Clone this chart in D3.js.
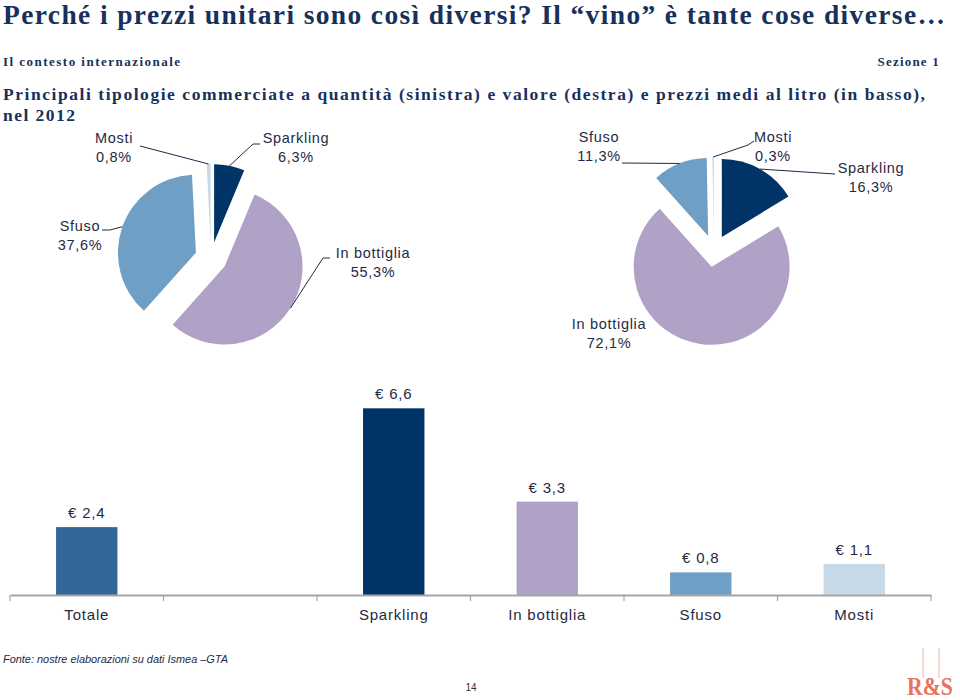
<!DOCTYPE html>
<html><head><meta charset="utf-8">
<script src="https://cdn.jsdelivr.net/npm/d3@7"></script>
<style>
html,body{margin:0;padding:0;background:#fff;}
svg{display:block;}
</style></head>
<body>
<svg id="chart" width="960" height="700"></svg>
<script>
// ---------- DATA ----------
const sliceLabels = ["Sparkling", "In bottiglia", "Sfuso", "Mosti"];
const quantityShares = [6.3, 55.3, 37.6, 0.8];   // left pie (quantità)
const valueShares    = [16.3, 72.1, 11.3, 0.3];  // right pie (valore)
const barCategories  = ["Totale", "", "Sparkling", "In bottiglia", "Sfuso", "Mosti"];
const barPrices      = [2.4, null, 6.6, 3.3, 0.8, 1.1]; // € al litro

// ---------- STYLE ----------
const colorOf = {
  "Totale": "#336699",
  "Sparkling": "#003366",
  "In bottiglia": "#b0a1c7",
  "Sfuso": "#6f9fc4",
  "Mosti": "#c7d9e7"
};
const navy = "#17315c";
const labelInk = "#1f2a44";
const fmt = v => v.toFixed(1).replace(".", ",");

const svg = d3.select("#chart");

// ---------- HEADER ----------
svg.append("text").attr("x", 3).attr("y", 24)
  .attr("textLength", 942).attr("lengthAdjust", "spacing")
  .style("font-family", "'Liberation Serif','DejaVu Serif',serif")
  .style("font-weight", "bold").style("font-size", "27.5px").attr("fill", navy)
  .text("Perché i prezzi unitari sono così diversi? Il “vino” è tante cose diverse…");

svg.append("text").attr("x", 3).attr("y", 66)
  .attr("textLength", 177).attr("lengthAdjust", "spacing")
  .style("font-family", "'Liberation Serif',serif").style("font-weight", "bold")
  .style("font-size", "13px").attr("fill", navy)
  .text("Il contesto internazionale");

svg.append("text").attr("x", 940).attr("y", 66).attr("text-anchor", "end")
  .style("font-family", "'Liberation Serif',serif").style("font-weight", "bold")
  .style("font-size", "13px").style("letter-spacing", "1.2px").attr("fill", navy)
  .text("Sezione 1");

svg.append("text").attr("x", 3).attr("y", 100)
  .attr("textLength", 922).attr("lengthAdjust", "spacing")
  .style("font-family", "'Liberation Serif',serif").style("font-weight", "bold")
  .style("font-size", "17.5px").attr("fill", navy)
  .text("Principali tipologie commerciate a quantità (sinistra) e valore (destra) e prezzi medi al litro (in basso),");
svg.append("text").attr("x", 3).attr("y", 121)
  .attr("textLength", 72).attr("lengthAdjust", "spacing")
  .style("font-family", "'Liberation Serif',serif").style("font-weight", "bold")
  .style("font-size", "17.5px").attr("fill", navy)
  .text("nel 2012");

// ---------- PIES ----------
const R = 78, explode = 16;
const pie = d3.pie().sort(null).value(d => d.v);
const arc = d3.arc().innerRadius(0).outerRadius(R);

function drawPie(values, cx, cy, labelLayout) {
  const data = sliceLabels.map((k, i) => ({k, v: values[i]}));
  const arcs = pie(data);
  const g = svg.append("g").attr("transform", `translate(${cx},${cy})`);
  arcs.forEach(a => {
    const mid = (a.startAngle + a.endAngle) / 2;
    const ox = Math.sin(mid) * explode, oy = -Math.cos(mid) * explode;
    g.append("path").attr("d", arc(a)).attr("fill", colorOf[a.data.k])
      .attr("transform", `translate(${ox},${oy})`);
    const L = labelLayout[a.data.k];
    const t = svg.append("text").attr("text-anchor", "middle")
      .style("font-family", "'Liberation Sans',Arial,sans-serif")
      .style("font-size", "14.5px").style("letter-spacing", "0.7px")
      .attr("fill", labelInk);
    t.append("tspan").attr("x", L.x).attr("y", L.y).text(a.data.k);
    t.append("tspan").attr("x", L.x).attr("y", L.y + 19).text(fmt(a.data.v) + "%");
    if (L.lead) {
      const ex = cx + ox + Math.sin(mid) * R, ey = cy + oy - Math.cos(mid) * R;
      const pts = L.lead.concat([[ex, ey]]);
      svg.append("path").attr("d", d3.line()(pts))
        .attr("fill", "none").attr("stroke", "#1f2a44").attr("stroke-width", 1);
    }
  });
}

drawPie(quantityShares, 211, 258, {
  "Mosti":        {x: 114, y: 143, lead: [[140, 146]]},
  "Sparkling":    {x: 296, y: 143, lead: [[260, 144], [253, 144]]},
  "Sfuso":        {x: 80,  y: 231, lead: [[102, 230], [110, 230]]},
  "In bottiglia": {x: 373, y: 258, lead: [[330, 258], [323, 258]]}
});
drawPie(valueShares, 714, 251, {
  "Sfuso":        {x: 599, y: 142, lead: [[622, 163]]},
  "Mosti":        {x: 773, y: 142, lead: [[754, 141], [748, 145]]},
  "Sparkling":    {x: 871, y: 173, lead: [[835, 174]]},
  "In bottiglia": {x: 609, y: 329, lead: null}
});

// ---------- BARS ----------
const x = d3.scaleBand().domain(barCategories).range([10, 931])
  .paddingInner(0.6).paddingOuter(0.3);
const y = d3.scaleLinear().domain([0, 7]).range([595, 397]);

const barData = barCategories.map((c, i) => ({c, v: barPrices[i]})).filter(d => d.v != null);
const bg = svg.append("g");
bg.selectAll("rect").data(barData).join("rect")
  .attr("x", d => x(d.c)).attr("width", x.bandwidth())
  .attr("y", d => y(d.v)).attr("height", d => y(0) - y(d.v))
  .attr("fill", d => colorOf[d.c]);

bg.selectAll("text.val").data(barData).join("text").attr("class", "val")
  .attr("x", d => x(d.c) + x.bandwidth() / 2).attr("y", d => y(d.v) - 9)
  .attr("text-anchor", "middle")
  .style("font-family", "'Liberation Sans',Arial,sans-serif")
  .style("font-size", "15px").style("letter-spacing", "0.8px").attr("fill", labelInk)
  .text(d => "€ " + fmt(d.v));

// axis
const axis = svg.append("g").attr("transform", `translate(0,${y(0)})`)
  .call(d3.axisBottom(x).tickSize(0).tickPadding(14).tickSizeOuter(0));
axis.select(".domain").attr("stroke", "#a6a6a6").attr("stroke-width", 2);
axis.selectAll(".tick text")
  .style("font-family", "'Liberation Sans',Arial,sans-serif")
  .style("font-size", "15px").style("letter-spacing", "0.8px").attr("fill", labelInk);
const bounds = d3.range(barCategories.length + 1).map(i => x.range()[0] + i * x.step());
axis.selectAll("line.bound").data(bounds).join("line").attr("class", "bound")
  .attr("x1", d => d).attr("x2", d => d).attr("y1", 0).attr("y2", 6)
  .attr("stroke", "#a6a6a6").attr("stroke-width", 1.2);

// ---------- FOOTER ----------
svg.append("text").attr("x", 3).attr("y", 663)
  .attr("textLength", 225).attr("lengthAdjust", "spacingAndGlyphs")
  .style("font-family", "'Liberation Sans Narrow','Liberation Sans',Arial,sans-serif")
  .style("font-style", "italic").style("font-size", "11.5px").attr("fill", "#1f2a44")
  .text("Fonte: nostre elaborazioni su dati Ismea –GTA");

svg.append("text").attr("x", 471).attr("y", 691).attr("text-anchor", "middle")
  .style("font-family", "'Liberation Sans Narrow','Liberation Sans',Arial,sans-serif")
  .style("font-size", "10px").attr("fill", "#333").text("14");

svg.append("line").attr("x1", 923).attr("x2", 923).attr("y1", 648).attr("y2", 678)
  .attr("stroke", "#efb3a5").attr("stroke-width", 1);
svg.append("line").attr("x1", 939).attr("x2", 939).attr("y1", 648).attr("y2", 678)
  .attr("stroke", "#efb3a5").attr("stroke-width", 1);
svg.append("text").attr("x", 930).attr("y", 695).attr("text-anchor", "middle")
  .attr("textLength", 46).attr("lengthAdjust", "spacingAndGlyphs")
  .style("font-family", "'Liberation Serif',serif").style("font-weight", "bold")
  .style("font-size", "25px").attr("fill", "#e8735a")
  .text("R&S");
</script>
</body></html>
